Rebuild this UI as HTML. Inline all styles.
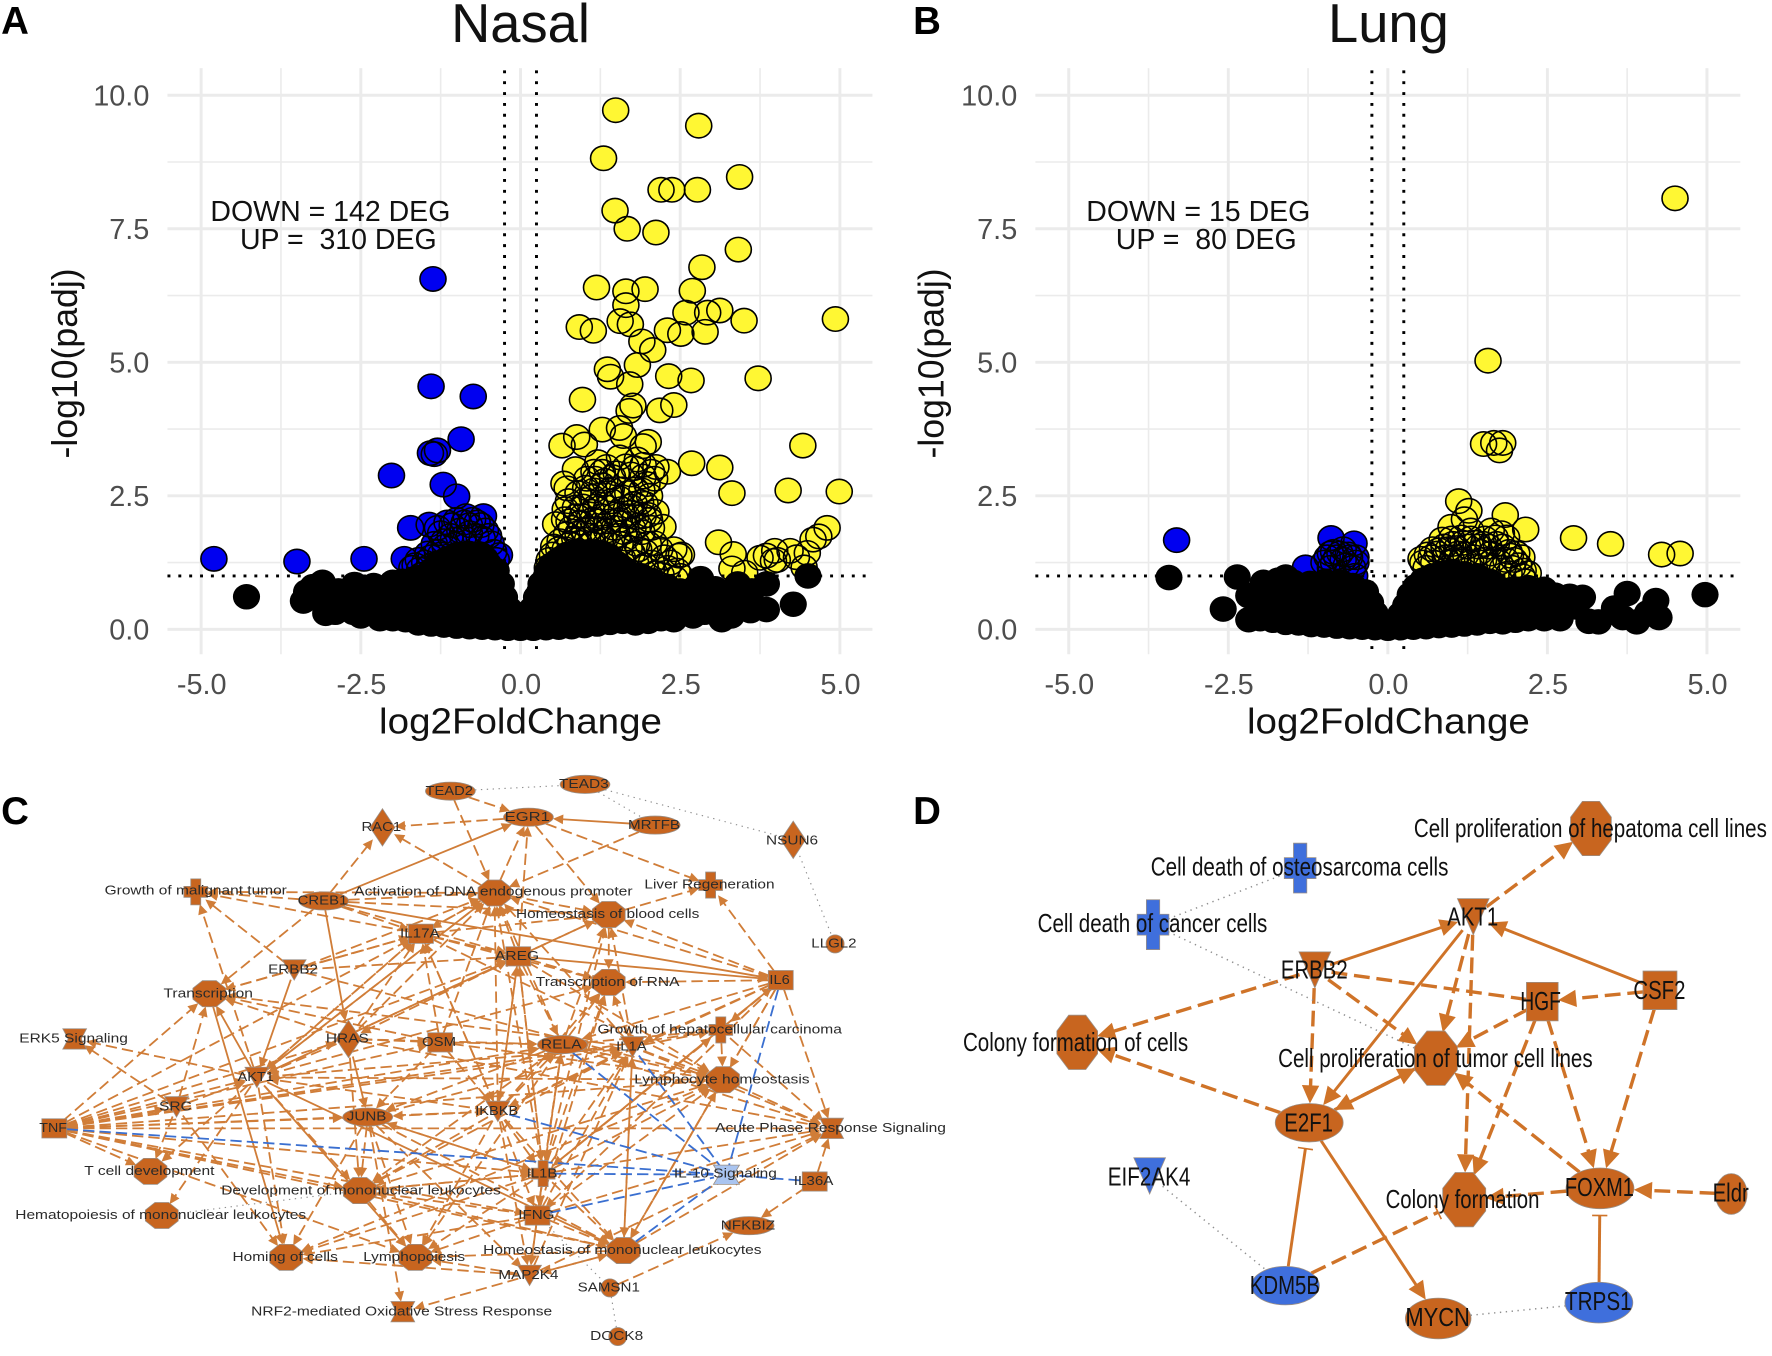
<!DOCTYPE html>
<html lang="en">
<head>
<meta charset="utf-8">
<title>Volcano plots and pathway networks</title>
<style>
html,body{margin:0;padding:0;background:#fff;}
svg{display:block;font-family:"Liberation Sans",Arial,sans-serif;}
.tick{fill:#4d4d4d;font-size:25.5px;}
.axt{fill:#111;font-size:32px;}
.ttl{fill:#111;font-size:48px;}
.ann{fill:#111;font-size:25.2px;}
.let{fill:#000;font-size:34px;font-weight:bold;}
</style>
</head>
<body>
<svg id="fig" xmlns="http://www.w3.org/2000/svg" width="1772" height="1356" viewBox="0 0 1566 1198">
<rect x="0" y="0" width="1566" height="1198" fill="#fff"/>
<text class="let" x="1" y="30">A</text>
<text class="let" x="807" y="30">B</text>
<text class="let" x="1" y="728">C</text>
<text class="let" x="807" y="728">D</text>
<g id="panelA"></g>
<g id="panelB"></g>
<g id="panelC" style="filter:blur(0.35px)"></g>
<g id="panelD" style="filter:blur(0.3px)"></g>
</svg>
<script>
const xTicks = [-5, -2.5, 0, 2.5, 5];
const yTicks = [0, 2.5, 5, 7.5, 10];
const xTickLabels = ['-5.0', '-2.5', '0.0', '2.5', '5.0'];
const yTickLabels = ['0.0', '2.5', '5.0', '7.5', '10.0'];
const foldThresholds = [-0.25, 0.25];
const padjThreshold = 1;

const nasalUp = [
[1.49,9.72],[2.79,9.43],[1.3,8.82],[3.43,8.47],[2.2,8.23],[2.37,8.23],[2.77,8.23],[1.48,7.84],[1.67,7.5],[2.12,7.43],
[3.41,7.11],[2.84,6.78],[1.19,6.4],[1.65,6.33],[1.95,6.37],[2.69,6.34],[1.65,6.07],[2.59,5.93],[2.93,5.93],[3.12,5.97],
[3.5,5.78],[4.93,5.81],[1.56,5.77],[1.72,5.71],[0.92,5.66],[1.14,5.59],[2.3,5.6],[2.51,5.53],[2.89,5.57],[1.9,5.39],
[2.07,5.23],[1.83,4.95],[1.36,4.87],[1.41,4.73],[1.71,4.59],[2.32,4.74],[2.67,4.66],[3.72,4.7],[0.97,4.3],[1.76,4.19],
[1.7,4.09],[2.4,4.2],[2.18,4.1],[1.28,3.74],[1.55,3.77],[1.61,3.62],[0.88,3.6],[0.65,3.44],[1.0,3.46],[2.0,3.51],
[1.92,3.43],[4.42,3.44],[2.68,3.11],[3.12,3.03],[3.31,2.55],[4.19,2.6],[4.99,2.58],
[0.68,2.73],[0.73,2.64],[0.86,3.0],[1.04,2.82],[1.21,3.13],[1.35,3.04],[1.17,2.82],[1.44,2.85],[1.83,3.18],[1.73,2.9],
[2.12,3.04],[2.3,2.95],[2.1,2.82],[1.92,2.86],[1.55,3.22],[1.28,2.95],[1.6,2.62],[1.38,2.55],[1.12,2.48],[1.9,2.6],
[0.55,1.97],[0.69,2.06],[0.86,2.28],[0.98,2.3],[1.12,2.2],[2.23,1.92],[2.1,1.61],[2.0,2.14],[2.12,2.2],[1.78,2.35],
[0.7,2.25],[0.8,1.9],[0.95,2.0],[1.08,1.88],[1.22,2.02],[1.35,2.28],[1.48,2.15],[1.6,1.98],[1.72,2.18],[1.85,1.95],
[1.95,2.35],[2.05,1.9],[1.52,1.75],[1.3,1.72],[1.05,1.68],[0.85,1.7],[0.62,1.65],[0.5,1.4],[0.42,1.15],[0.7,1.5],
[0.58,1.28],[1.65,1.7],[1.82,1.6],[1.95,1.45],[2.05,1.25],[1.75,1.42],[2.4,1.5],[2.52,1.4],[2.48,1.38],[2.3,1.15],
[2.5,1.0],[3.1,1.63],[3.33,1.41],[4.8,1.9],[4.67,1.74],[4.58,1.68],[4.49,1.43],[4.44,1.16],[3.75,1.34],[3.85,1.38],
[3.96,1.28],[3.98,1.47],[4.02,1.3],[4.22,1.47],[4.32,1.35],[3.31,1.14],[3.51,1.06],[2.45,1.1],
[0.75,2.4],[0.9,2.55],[1.02,2.65],[1.15,2.6],[1.28,2.7],[1.42,2.62],[1.55,2.45],[1.68,2.55],[1.8,2.62],[1.98,2.72],
[2.02,2.5],[1.88,2.38],[1.72,2.3],[1.58,2.25],[1.42,2.4],[1.27,2.38],[1.18,2.3],[1.02,2.42],[0.88,2.12],[0.76,2.02],
[0.97,2.12],[1.13,2.05],[1.27,2.12],[1.4,2.02],[1.55,2.05],[1.66,2.12],[1.8,2.1],[1.92,2.12],[2.02,2.05],[1.9,1.82],
[1.76,1.88],[1.62,1.82],[1.47,1.9],[1.35,1.85],[1.2,1.88],[1.0,1.85],[0.9,1.8],[0.72,1.78],[0.6,1.5],[0.78,1.6],
[0.92,1.62],[1.12,1.6],[1.25,1.65],[1.4,1.58],[1.56,1.6],[1.7,1.52],[1.85,1.5],[2.0,1.6],[2.18,1.5],[2.25,1.35],
[2.35,1.25],[1.6,1.32],[1.8,1.25],[1.95,1.2],[2.1,1.05],[2.2,1.02],[2.42,0.95],[0.52,1.55],[0.45,1.3],[1.15,2.95],
[1.32,2.78],[1.5,2.92],[1.65,3.05],[1.78,3.02],[1.92,3.08],[2.05,2.95]
];
const nasalDown = [
[-4.8,1.32],[-3.5,1.27],[-2.45,1.32],[-1.37,6.56],[-1.4,4.55],[-0.74,4.36],[-0.93,3.56],[-1.41,3.3],[-1.3,3.35],[-1.35,3.28],
[-2.02,2.88],[-1.21,2.71],[-1.0,2.49],[-1.72,1.9],[-1.43,1.96],[-0.58,2.12],[-0.85,2.12],[-0.75,2.05],[-0.62,1.95],[-1.25,1.8],
[-1.07,1.95],[-0.95,1.85],[-1.82,1.32],[-1.65,1.2],[-1.5,1.25],[-1.35,1.6],[-1.18,1.55],[-0.9,1.72],[-0.7,1.75],[-0.46,1.61],
[-0.33,1.39],[-1.55,1.02],[-1.45,1.42],
[-1.3,1.9],[-1.15,2.0],[-1.0,2.05],[-0.88,2.0],[-0.8,1.95],[-0.68,2.0],[-0.55,1.85],[-1.1,1.75],[-1.2,1.65],[-1.05,1.68],
[-0.8,1.8],[-0.6,1.7],[-0.5,1.75],[-1.3,1.45],[-1.4,1.35],[-1.6,1.3],[-1.7,1.15],[-1.25,1.4],[-1.42,1.18],[-1.58,1.12],
[-0.42,1.45],[-0.38,1.3]
];
const nasalNs = [
[-4.29,0.61],[-3.4,0.53],[-3.35,0.7],[-3.25,0.8],[-3.1,0.88],[-3.05,0.52],[-3.05,0.3],[4.27,0.47],[4.5,1.0],
[-2.85,0.72],[-2.6,0.84],[-2.5,0.25],[-2.2,0.2],[-2.0,0.2],[-1.8,0.18],[-1.6,0.12],[-1.4,0.1],[-1.2,0.08],[-1.0,0.06],
[-0.8,0.05],[-0.6,0.04],[-0.4,0.03],[-0.2,0.02],[0,0.02],[0.2,0.02],[0.4,0.03],[0.6,0.04],[0.8,0.05],[1.0,0.07],
[1.2,0.1],[1.4,0.13],[1.6,0.15],[1.8,0.12],[2.0,0.15],[2.2,0.2],[2.4,0.18],[2.7,0.25],[3.15,0.18],[3.3,0.25],[3.6,0.35],
[-2.9,0.32],[-2.62,0.32],[-2.38,0.33],[-2.1,0.32],[-1.85,0.31],[-1.58,0.3],[-1.3,0.32],[-1.03,0.3],[-0.78,0.31],[-0.52,0.3],[-0.27,0.28],
[0.24,0.28],[0.5,0.3],[0.77,0.3],[1.04,0.32],[1.3,0.3],[1.56,0.32],[1.83,0.3],[2.1,0.33],[2.37,0.32],[2.62,0.3],[2.88,0.32],[3.47,0.4],[3.85,0.37],
[-3.0,0.55],[-2.7,0.56],[-2.42,0.55],[-2.15,0.54],[-1.88,0.55],[-1.62,0.56],[-1.36,0.55],[-1.1,0.54],[-0.85,0.55],[-0.6,0.55],[-0.36,0.53],[-0.22,0.42],
[0.22,0.42],[0.33,0.55],[0.58,0.55],[0.84,0.56],[1.1,0.55],[1.37,0.54],[1.63,0.56],[1.9,0.55],[2.16,0.55],[2.42,0.56],[2.68,0.55],[2.95,0.54],[3.2,0.55],[3.46,0.56],
[-3.12,0.78],[-2.55,0.78],[-2.28,0.76],[-2.02,0.77],[-1.75,0.85],[-1.48,0.8],[-1.22,0.78],[-0.96,0.79],[-0.72,0.78],[-0.46,0.8],[-0.32,0.72],
[0.3,0.7],[0.42,0.8],[0.66,0.78],[0.92,0.8],[1.18,0.78],[1.44,0.79],[1.7,0.8],[1.96,0.78],[2.22,0.78],[2.5,0.72],[2.82,0.95],[3.05,0.76],[3.4,0.85],[3.85,0.85],[3.62,0.72],
[-1.5,1.0],[-1.28,1.02],[-1.05,1.0],[-0.82,1.01],[-0.58,1.0],[-0.42,0.98],[0.4,0.98],[0.48,1.05],[0.68,1.0],[0.93,1.02],[1.2,1.0],[1.45,1.01],[1.7,1.0],[1.92,0.98],
[-1.3,1.24],[-1.05,1.25],[-0.85,1.24],[-0.65,1.26],[-0.5,1.22],[0.55,1.25],[0.75,1.24],[1.0,1.26],[1.25,1.25],[1.5,1.24],
[-1.0,1.4],[-0.8,1.42],[-0.62,1.4],[0.85,1.44],[1.05,1.45],[1.25,1.43],
[-1.4,1.1],[-1.65,0.95],[-1.2,1.15],[-1.15,1.32],[-0.9,1.35],[-0.72,1.4],[-0.55,1.32],[-0.38,1.1],[-0.3,0.85],[-0.25,0.6],[-0.18,0.38],[0.18,0.38],
[0.25,0.6],[0.32,0.85],[0.42,1.08],[0.48,1.2],[0.65,1.34],[0.72,1.4],[0.95,1.45],[1.15,1.45],[1.38,1.38],[1.6,1.15],[1.8,1.02],[2.05,0.92],[2.3,0.8],[2.6,0.7],[-2.0,0.88],[-2.3,0.82],[-1.85,0.9]
];

const lungUp = [
[4.5,8.07],[1.57,5.03],[1.5,3.47],[1.66,3.49],[1.8,3.49],[1.75,3.35],[1.11,2.4],[1.27,2.22],[1.84,2.14],[2.16,1.87],
[2.91,1.71],[3.49,1.6],[4.29,1.4],[4.58,1.42],[1.2,2.06],[0.99,1.92],[1.3,1.85],[1.62,1.85],[1.78,1.8],[1.86,1.72],
[0.85,1.68],[1.0,1.7],[1.15,1.72],[1.38,1.62],[1.52,1.7],[1.7,1.6],[0.7,1.5],[0.62,1.4],[0.52,1.32],[0.8,1.48],
[1.25,1.55],[1.45,1.45],[1.62,1.42],[1.9,1.45],[2.02,1.42],[2.1,1.35],[1.85,1.3],[0.95,1.5],[1.1,1.42],[1.75,1.25],
[2.12,1.1],[2.2,1.05],[1.95,1.15],[2.15,0.9],
[0.55,1.25],[0.68,1.35],[0.78,1.42],[0.88,1.55],[1.02,1.6],[1.08,1.52],[1.18,1.62],[1.3,1.7],[1.42,1.55],[1.5,1.6],
[1.58,1.55],[1.68,1.72],[1.8,1.55],[1.92,1.38],[1.98,1.3],[0.72,1.25],[0.9,1.35],[1.05,1.35],[1.22,1.4],[1.35,1.35],
[1.5,1.3],[1.65,1.3],[1.8,1.15],[2.05,1.2],[1.9,1.05],[2.1,1.0],[0.6,1.15],[1.3,1.25],[1.0,1.28],[1.15,1.3]
];
const lungDown = [
[-3.31,1.67],[-0.89,1.71],[-0.53,1.61],[-1.29,1.16],[-0.9,1.42],[-0.75,1.42],[-0.62,1.4],[-0.85,1.25],[-0.55,1.15],[-0.7,1.3],[-0.52,1.0],
[-0.95,1.35],[-0.85,1.45],[-0.7,1.5],[-0.6,1.35],[-0.8,1.35],[-0.5,1.25],[-1.0,1.25],[-0.65,1.2],[-0.9,1.15],[-0.5,1.35]
];
const lungNs = [
[-3.43,0.97],[-2.58,0.38],[-2.36,0.98],[-2.18,0.63],[-2.18,0.18],[3.15,0.15],[3.3,0.14],[3.75,0.67],[3.55,0.4],[3.68,0.22],[3.9,0.14],[4.2,0.54],[4.25,0.22],[4.07,0.31],[4.97,0.65],
[-2.0,0.2],[-1.8,0.17],[-1.6,0.13],[-1.4,0.12],[-1.2,0.09],[-1.0,0.08],[-0.8,0.06],[-0.6,0.05],[-0.4,0.04],[-0.2,0.03],[0,0.02],[0.2,0.03],[0.4,0.04],[0.6,0.05],[0.8,0.07],[1.0,0.08],[1.2,0.1],[1.4,0.12],[1.6,0.15],[1.8,0.14],[2.0,0.17],[2.2,0.2],[2.45,0.2],[2.7,0.2],
[-2.0,0.42],[-1.75,0.4],[-1.5,0.38],[-1.25,0.4],[-1.0,0.38],[-0.75,0.4],[-0.5,0.38],[-0.28,0.34],[0.28,0.35],[0.5,0.36],[0.75,0.38],[1.0,0.38],[1.25,0.4],[1.5,0.38],[1.75,0.4],[2.0,0.38],[2.25,0.4],[2.5,0.38],[2.75,0.4],[2.95,0.42],
[-2.1,0.65],[-1.88,0.66],[-1.62,0.65],[-1.38,0.64],[-1.12,0.65],[-0.88,0.66],[-0.62,0.64],[-0.4,0.6],[0.36,0.58],[0.62,0.64],[0.88,0.65],[1.12,0.64],[1.38,0.65],[1.62,0.66],[1.88,0.64],[2.12,0.65],[2.38,0.66],[2.62,0.64],[2.85,0.62],[3.05,0.6],
[-1.95,0.88],[-1.72,0.92],[-1.48,0.88],[-1.22,0.86],[-0.98,0.9],[-0.74,0.88],[-0.55,0.82],[0.44,0.8],[0.68,0.86],[0.92,0.92],[1.18,0.9],[1.42,0.88],[1.68,0.82],[1.95,0.75],[2.2,0.78],[2.45,0.75],
[-1.6,0.98],[0.85,1.05],[1.02,1.08],[1.2,1.04],
[-0.35,0.7],[-0.27,0.5],[-0.2,0.3],[0.2,0.28],[0.28,0.45],[0.35,0.65],[0.55,0.92],[0.7,1.0],[1.4,1.0],[1.6,0.9]
];

const NS = 'http://www.w3.org/2000/svg';
function mk(tag, parent) {
  const el = document.createElementNS(NS, tag);
  parent.appendChild(el);
  return el;
}

function drawVolcano(root, cx, scaleX, labelCx, yLabelRight, ytitleX, left, right, title, annLines, annCx, up, down, ns, prefix) {
  const sx = v => cx + v * scaleX;
  const sy = v => 556 - v * 47.2;
  const top = 60, bottom = 578;
  for (let i = 0; i < 9; i++) {
    const v = -5 + i * 1.25;
    const major = i % 2 === 0;
    const l = mk('line', root);
    
    
    l.setAttribute('x1', sx(v)); l.setAttribute('x2', sx(v));
    l.setAttribute('y1', top); l.setAttribute('y2', bottom);
    l.setAttribute('stroke', '#ebebeb');
    l.setAttribute('stroke-width', major ? 2.6 : 1.4);
  }
  for (let i = 0; i < 9; i++) {
    const v = i * 1.25;
    const major = i % 2 === 0;
    const l = mk('line', root);
    
    
    l.setAttribute('x1', left); l.setAttribute('x2', right);
    l.setAttribute('y1', sy(v)); l.setAttribute('y2', sy(v));
    l.setAttribute('stroke', '#ebebeb');
    l.setAttribute('stroke-width', major ? 2.6 : 1.4);
  }
  /* coloured groups: fills first, then every outline on top so overlaps stay visible */
  const colored = [[up, '#fff733', 'up-point'], [down, '#0000f0', 'down-point']];
  colored.forEach(g => {
    g[0].forEach(p => {
      const c = mk('ellipse', root);
      
      
      c.setAttribute('cx', sx(p[0]));
      c.setAttribute('cy', sy(p[1]));
      c.setAttribute('rx', 11.5);
      c.setAttribute('ry', 10.8);
      c.setAttribute('fill', g[1]);
    });
    g[0].forEach(p => {
      const o = mk('ellipse', root);
      
      
      o.setAttribute('cx', sx(p[0]));
      o.setAttribute('cy', sy(p[1]));
      o.setAttribute('rx', 11.5);
      o.setAttribute('ry', 10.8);
      o.setAttribute('fill', 'none');
      o.setAttribute('stroke', '#000');
      o.setAttribute('stroke-width', 1.4);
    });
  });
  ns.forEach(p => {
    const c = mk('ellipse', root);
    
    
    c.setAttribute('cx', sx(p[0]));
    c.setAttribute('cy', sy(p[1]));
    c.setAttribute('rx', 12);
    c.setAttribute('ry', 11.3);
    c.setAttribute('fill', '#000');
  });
  foldThresholds.forEach(t => {
    const l = mk('line', root);
    
    
    l.setAttribute('x1', sx(t)); l.setAttribute('x2', sx(t));
    l.setAttribute('y1', top + 2); l.setAttribute('y2', bottom + 2);
    l.setAttribute('stroke', '#000');
    l.setAttribute('stroke-width', 2.6);
    l.setAttribute('stroke-dasharray', '2.6 7');
  });
  const h = mk('line', root);
  
  
  h.setAttribute('x1', left); h.setAttribute('x2', right);
  h.setAttribute('y1', sy(padjThreshold)); h.setAttribute('y2', sy(padjThreshold));
  h.setAttribute('stroke', '#000');
  h.setAttribute('stroke-width', 2.6);
  h.setAttribute('stroke-dasharray', '2.6 7');
  xTicks.forEach((v, i) => {
    const t = mk('text', root);
    
    
    t.setAttribute('class', 'tick');
    t.setAttribute('x', sx(v) + 0.5);
    t.setAttribute('y', 613);
    t.setAttribute('text-anchor', 'middle');
    t.textContent = xTickLabels[i];
  });
  yTicks.forEach((v, i) => {
    const t = mk('text', root);
    
    
    t.setAttribute('class', 'tick');
    t.setAttribute('x', yLabelRight);
    t.setAttribute('y', sy(v) + 9);
    t.setAttribute('text-anchor', 'end');
    t.textContent = yTickLabels[i];
  });
  const xt = mk('text', root);
  
  
  xt.setAttribute('class', 'axt');
  xt.setAttribute('x', labelCx);
  xt.setAttribute('y', 648);
  xt.setAttribute('text-anchor', 'middle');
  xt.setAttribute('textLength', 250);
  xt.setAttribute('lengthAdjust', 'spacingAndGlyphs');
  xt.textContent = 'log2FoldChange';
  const yt = mk('text', root);
  
  
  yt.setAttribute('class', 'axt');
  yt.setAttribute('text-anchor', 'middle');
  yt.setAttribute('textLength', 168);
  yt.setAttribute('lengthAdjust', 'spacingAndGlyphs');
  yt.setAttribute('transform', 'translate(' + ytitleX + ',321) rotate(-90)');
  yt.textContent = '-log10(padj)';
  const tt = mk('text', root);
  
  
  tt.setAttribute('class', 'ttl');
  tt.setAttribute('x', labelCx);
  tt.setAttribute('y', 37);
  tt.setAttribute('text-anchor', 'middle');
  tt.textContent = title;
  annLines.forEach((s, i) => {
    const a = mk('text', root);
    
    
    a.setAttribute('class', 'ann');
    a.setAttribute('x', annCx[i]);
    a.setAttribute('y', 195 + i * 25);
    a.setAttribute('text-anchor', 'middle');
    a.setAttribute('xml:space', 'preserve');
    a.style.whiteSpace = 'pre';
    a.textContent = s;
  });
}

drawVolcano(document.getElementById('panelA'), 460, 56.45, 460, 132, 68, 148, 771, 'Nasal',
  ['DOWN = 142 DEG', 'UP =  310 DEG'], [292, 299], nasalUp, nasalDown, nasalNs, 'nasal');
drawVolcano(document.getElementById('panelB'), 1226.5, 56.4, 1227, 899, 834, 915, 1538, 'Lung',
  ['DOWN = 15 DEG', 'UP =  80 DEG'], [1059, 1066], lungUp, lungDown, lungNs, 'lung');

/* ---------- network drawing ---------- */
const ORANGE = '#c8651f';
function shapePoints(s, x, y, w, h) {
  if (s === 'oct') {
    const a = w * 0.42, b = h * 0.42;
    return [[x-a,y-h],[x+a,y-h],[x+w,y-b],[x+w,y+b],[x+a,y+h],[x-a,y+h],[x-w,y+b],[x-w,y-b]];
  }
  if (s === 'sq') return [[x-w,y-h],[x+w,y-h],[x+w,y+h],[x-w,y+h]];
  if (s === 'cross') {
    const a = w * 0.42, b = h * 0.42;
    return [[x-a,y-h],[x+a,y-h],[x+a,y-b],[x+w,y-b],[x+w,y+b],[x+a,y+b],[x+a,y+h],[x-a,y+h],[x-a,y+b],[x-w,y+b],[x-w,y-b],[x-a,y-b]];
  }
  if (s === 'tri') return [[x-w,y-h],[x+w,y-h],[x,y+h]];
  if (s === 'dia') return [[x,y-h],[x+w,y],[x,y+h],[x-w,y]];
  if (s === 'hour') return [[x-w,y-h],[x+w,y-h],[x+w*0.55,y],[x+w,y+h],[x-w,y+h],[x-w*0.55,y]];
  return null;
}
function drawNetwork(root, nodes, sizes, edges, style) {
  const map = {};
  nodes.forEach(n => { map[n[0]] = {id:n[0], label:n[1], shape:n[2], x:n[3], y:n[4], lx:n[5], lw:n[6], ly:n[7] === undefined ? n[4] : n[7], rx:n[8] || sizes[n[2]][0], ry:n[9] || sizes[n[2]][1], fill:n[10] || ORANGE}; });
  function edgePoint(n, ux, uy) {
    const t = 1 / Math.sqrt((ux/n.rx)*(ux/n.rx) + (uy/n.ry)*(uy/n.ry));
    return [n.x + ux*t, n.y + uy*t];
  }
  edges.forEach(e => {
    const a = map[e[0]], b = map[e[1]], kind = e[2], color = e[3] || style.color;
    const dx = b.x - a.x, dy = b.y - a.y, len = Math.hypot(dx, dy), ux = dx/len, uy = dy/len;
    const p = edgePoint(a, ux, uy), q = edgePoint(b, -ux, -uy);
    const dotted = kind === 'dot';
    const headed = !dotted && e[4] !== 'none' && e[4] !== 'bar';
    const back = headed ? style.head * 0.7 : (e[4] === 'bar' ? 6 : 0);
    const l = mk('line', root);
    
    
    l.setAttribute('x1', p[0]); l.setAttribute('y1', p[1]);
    l.setAttribute('x2', q[0] - ux*back); l.setAttribute('y2', q[1] - uy*back);
    l.setAttribute('stroke', dotted ? '#8f8f8f' : color);
    l.setAttribute('stroke-width', dotted ? style.dotWidth : (kind === 's' ? style.solid : style.dash));
    if (dotted) l.setAttribute('stroke-dasharray', '1.2 4');
    if (kind === 'd') l.setAttribute('stroke-dasharray', style.pattern);
    if (headed) {
      const tx = q[0], ty = q[1], hl = style.head, hw = style.head * 0.48;
      const bx = tx - ux*hl, by = ty - uy*hl;
      const arrow = mk('polygon', root);
      
      
      arrow.setAttribute('points', tx+','+ty+' '+(bx-uy*hw)+','+(by+ux*hw)+' '+(bx+uy*hw)+','+(by-ux*hw));
      arrow.setAttribute('fill', color);
    }
    if (e[4] === 'bar') {
      const tx = q[0] - ux*back, ty = q[1] - uy*back, hw = style.head * 0.42;
      const bar = mk('line', root);
      
      
      bar.setAttribute('x1', tx-uy*hw); bar.setAttribute('y1', ty+ux*hw);
      bar.setAttribute('x2', tx+uy*hw); bar.setAttribute('y2', ty-ux*hw);
      bar.setAttribute('stroke', color);
      bar.setAttribute('stroke-width', 1.4);
    }
  });
  nodes.forEach(raw => {
    const n = map[raw[0]];
    let sh;
    if (n.shape === 'ell') {
      sh = mk('ellipse', root);
      sh.setAttribute('cx', n.x); sh.setAttribute('cy', n.y);
      sh.setAttribute('rx', n.rx); sh.setAttribute('ry', n.ry);
    } else {
      sh = mk('polygon', root);
      sh.setAttribute('points', shapePoints(n.shape, n.x, n.y, n.rx, n.ry).map(p => p.join(',')).join(' '));
    }
    
    
    sh.setAttribute('fill', n.fill);
    sh.setAttribute('stroke', '#9a8f86');
    sh.setAttribute('stroke-width', 0.7);
  });
  nodes.forEach(raw => {
    const n = map[raw[0]];
    const t = mk('text', root);
    
    
    t.setAttribute('x', n.lx + style.shiftX);
    t.setAttribute('y', n.ly + style.font * 0.36 + style.shiftY);
    t.setAttribute('text-anchor', 'middle');
    t.setAttribute('font-size', style.font);
    t.setAttribute('fill', style.text);
    t.setAttribute('textLength', n.lw);
    t.setAttribute('lengthAdjust', 'spacingAndGlyphs');
    t.textContent = n.label;
  });
}

/* panel C: id, label, shape, x, y, label x, label width, label y */
const nodesC = [
['tead2','TEAD2','ell',398,699,398,42],['tead3','TEAD3','ell',517,693,517,44],['egr1','EGR1','ell',467,722,467,40],
['mrtfb','MRTFB','ell',579,729,579,46],['rac1','RAC1','dia',338,731,338,35],['nsun6','NSUN6','dia',701,742,701,46,743],
['gmt','Growth of malignant tumor','cross',173,788,174,161,787],['creb1','CREB1','ell',286,796,286,44],
['dna','Activation of DNA endogenous promoter','oct',437,789,437,246,788],['liver','Liver Regeneration','cross',628,782,628,115],
['hbc','Homeostasis of blood cells','oct',538,808,538,162],['il17a','IL17A','sq',372,825,372,35],['llgl2','LLGL2','ell',738,834,738,40,834,8,8],
['areg','AREG','sq',458,845,458,39],['erbb2','ERBB2','tri',260,857,260,44],['trans','Transcription','oct',185,878,185,79],
['trna','Transcription of RNA','oct',538,868,538,127],['il6','IL6','sq',690,866,690,18],['erk5','ERK5 Signaling','hour',66,918,66,96],
['hras','HRAS','dia',308,918,308,38],['osm','OSM','sq',389,921,389,30],['rela','RELA','ell',497,923,497,36],
['ghc','Growth of hepatocellular carcinoma','cross',637,910,637,216],['il1a','IL1A','tri',559,925,559,27],
['akt1','AKT1','tri',227,952,227,32],['src','SRC','tri',156,978,156,29],['lymh','Lymphocyte homeostasis','oct',639,954,639,155],
['junb','JUNB','ell',325,987,325,35],['ikbkb','IKBKB','tri',440,982,440,38],['tnf','TNF','sq',48,997,48,24.5],
['apr','Acute Phase Response Signaling','hour',735,997,735,204],['tcd','T cell development','oct',133,1035,133,115],
['dml','Development of mononuclear leukocytes','oct',318,1052,320,247],['il1b','IL1B','cross',480,1037,480,27],
['il10','IL-10 Signaling','hour',642,1038,642,91,1037,11.5,8.5,'#a9c4f0'],['il36a','IL36A','sq',720,1044,720,35],
['hml','Hematopoiesis of mononuclear leukocytes','oct',143,1074,143,257],['ifng','IFNG','sq',475,1074,475,32],
['nfkbiz','NFKBIZ','ell',662,1083,662,48],['hom','Homing of cells','oct',253,1111,253,93],['lymp','Lymphopoiesis','oct',367,1111,367,90],
['hmm','Homeostasis of mononuclear leukocytes','oct',551,1105,551,246],['map2k4','MAP2K4','tri',468,1127,468,53],
['samsn1','SAMSN1','ell',539,1138,539,55,1138,8,8],['nrf2','NRF2-mediated Oxidative Stress Response','hour',356,1159,356,266],
['dock8','DOCK8','ell',546,1181,546,47,1181,8,8]
];
const hubsC = [
['tnf',['akt1','hras','il17a','areg','src','trans','osm','rela','il1a','ikbkb','junb','apr','il1b','tcd','dml','ifng','hmm','lymh','ghc','lymp']],
['il6',['dna','hbc','trna','liver','lymh','apr','ghc','il1a','rela','il1b','ifng','hmm','ikbkb']],
['il1b',['dna','hbc','trna','lymh','ghc','il1a','rela','areg','junb','dml','lymp','ifng','map2k4','hmm','apr','hom']],
['ifng',['dml','lymp','hom','hmm','map2k4','il1a','rela','trna','lymh','apr']],
['ikbkb',['junb','akt1','il1b','ifng','rela','trna','dna','il17a','lymp','dml','map2k4','hmm','il1a','areg']],
['il1a',['trna','ghc','lymh','apr','hbc','dna','akt1','trans','hmm','dml']],
['rela',['trna','dna','hbc','dml','lymp','il1b','lymh','ghc','junb','apr']],
['akt1',['dna','hbc','il17a','tcd','hml','hom','dml','trna','lymh','gmt','erk5','areg']],
['hras',['akt1','trans','dml','il17a','dna','osm','rela','apr']],
['src',['trans','akt1','hom','erk5','tcd']],
['osm',['rela','il17a','trans','dna','junb','ikbkb','lymh']],
['areg',['hbc','trna','dna','akt1','hras','rela','lymh','ikbkb','il1b','egr1']],
['il17a',['dna','gmt','areg','trans','hbc','ikbkb','akt1','trna','lymh']],
['creb1',['dna','gmt','rac1','trans','hbc','areg','il17a']],
['erbb2',['trans','gmt','il17a','dna','areg','lymh']],
['junb',['dml','lymp','hom','nrf2','hmm','il1b','il1a','map2k4']],
['dml',['il1b','lymp','hmm','lymh']],
['hmm',['lymp','lymh','apr','map2k4','il1a']],
['map2k4',['lymp','nrf2','hmm','hom','apr','il1a']],
['lymh',['apr','hmm','hom']],
['ghc',['lymh','apr']],
['dna',['egr1','rac1','hbc','il17a','gmt']],
['egr1',['hbc','liver','rac1']],
['hbc',['liver','trna']],
['tead2',['dna','egr1']],
['mrtfb',['dna']],
['il36a',['apr','nfkbiz']],
['samsn1',['nfkbiz']]
];
const solidC = [['creb1','egr1'],['creb1','il6'],['creb1','hras'],['areg','il6'],['il1b','il6'],['mrtfb','egr1'],['erbb2','akt1'],['hras','junb'],['akt1','trans'],['akt1','lymp'],['akt1','hmm'],['akt1','dna'],['trans','hom']];
const blueC = [['tnf','il10'],['rela','il10'],['il1a','il10'],['ikbkb','il10'],['il1b','il10'],['ifng','il10'],['hmm','il10'],['il6','il10'],['il10','il36a']];
const dottedC = [['tead2','tead3'],['tead3','mrtfb'],['tead3','nsun6'],['nsun6','llgl2'],['samsn1','dock8'],['ifng','samsn1'],['hml','dml']];

const edgesC = [];
hubsC.forEach(h => h[1].forEach(t => edgesC.push([h[0], t, 'd'])));
solidC.forEach(p => edgesC.push([p[0], p[1], 's']));
blueC.forEach(p => edgesC.push([p[0], p[1], 'd', '#3a6fd0', 'none']));
dottedC.forEach(p => edgesC.push([p[0], p[1], 'dot']));
drawNetwork(document.getElementById('panelC'), nodesC,
  {ell:[22,8], oct:[14.5,11.5], sq:[11,8.5], cross:[10.5,11.5], tri:[10.5,9], dia:[11,16.5], hour:[10.5,9]},
  edgesC, {color:'#d07d38', solid:1.6, dash:1.6, pattern:'10 4.5', head:9, dotWidth:1, font:11.8, text:'#2a2a2a', shiftX:-1, shiftY:-1});

/* panel D */
const nodesD = [
['hepatoma','Cell proliferation of hepatoma cell lines','oct',1406,732,1407,312,733,18,24],
['osteo','Cell death of osteosarcoma cells','cross',1149,767,1150,263,767,14,22,'#3f6fdc'],
['cancer','Cell death of cancer cells','cross',1019,817,1020,203,817,14,22,'#3f6fdc'],
['akt1','AKT1','tri',1302,810,1303,45,811,14,16],
['erbb2','ERBB2','tri',1162,857,1163,59,858,14,16],
['hgf','HGF','sq',1363,885,1363,36,886,14,17],
['csf2','CSF2','sq',1467,875,1468,46,876,15,17],
['colcells','Colony formation of cells','oct',952,921,952,199,922,18,24],
['tumor','Cell proliferation of tumor cell lines','oct',1269,935,1270,278,936,19,24],
['e2f1','E2F1','ell',1157,992,1158,43,993,30,17],
['eif2ak4','EIF2AK4','tri',1016,1039,1017,73,1041,14,16,'#3f6fdc'],
['foxm1','FOXM1','ell',1414,1050,1415,61,1050,30,18],
['eldr','Eldr','ell',1530,1055,1531,32,1055,14,18],
['colony','Colony formation','oct',1294,1060,1294,136,1061,19,24],
['kdm5b','KDM5B','ell',1136,1136,1137,62,1137,30,17,'#3f6fdc'],
['mycn','MYCN','ell',1271,1165,1272,57,1165,29,18],
['trps1','TRPS1','ell',1413,1151,1414,59,1151,30,18,'#3f6fdc']
];
const edgesD = [
['erbb2','colcells','d'],['e2f1','colcells','d'],['erbb2','akt1','s'],['akt1','hepatoma','d'],['csf2','akt1','s'],['csf2','hgf','d'],
['csf2','foxm1','d'],['hgf','erbb2','d','#cf7328','none'],['hgf','tumor','d'],['hgf','foxm1','d'],['hgf','colony','d'],['erbb2','e2f1','d'],
['erbb2','tumor','d'],['akt1','e2f1','s'],['akt1','tumor','d'],['akt1','colony','d'],['e2f1','tumor','d'],['tumor','e2f1','d'],
['foxm1','tumor','d'],['foxm1','colony','d'],['eldr','foxm1','d'],['e2f1','mycn','s'],
['kdm5b','e2f1','s','#cf7328','bar'],['kdm5b','colony','d','#cf7328','bar'],['trps1','foxm1','s','#cf7328','bar'],
['eif2ak4','kdm5b','dot'],['mycn','trps1','dot'],['cancer','osteo','dot'],['cancer','tumor','dot']
];
drawNetwork(document.getElementById('panelD'), nodesD,
  {ell:[30,17], oct:[18,24], sq:[14,17], cross:[14,22], tri:[14,16], dia:[10,17], hour:[12,11]},
  edgesD, {color:'#cf7328', solid:2.6, dash:3, pattern:'14 6', head:16, dotWidth:1.3, font:22.5, text:'#111', shiftX:-1.5, shiftY:-1.5});
</script>
</body>
</html>
